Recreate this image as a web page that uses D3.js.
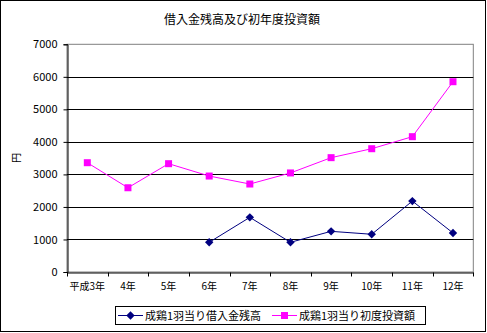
<!DOCTYPE html>
<html><head><meta charset="utf-8">
<script src="https://cdn.jsdelivr.net/npm/d3@7"></script>
<style>body{margin:0;background:#fff}svg{display:block}text{font-family:"Noto Sans CJK JP","Noto Sans",sans-serif;fill:#000}</style>
</head><body>
<script>
const categories = ["平成3年","4年","5年","6年","7年","8年","9年","10年","11年","12年"];
const debtPerBird = [null,null,null,913,1680,913,1250,1160,2180,1200];
const investPerBird = [3360,2590,3330,2950,2705,3045,3515,3790,4160,5850];
const yTicks = [0,1000,2000,3000,4000,5000,6000,7000];
const title = "借入金残高及び初年度投資額";
const yLabel = "円";
const seriesNames = ["成鶏1羽当り借入金残高","成鶏1羽当り初度投資額"];

const W = 487, H = 333;
const m = {left:67, top:44.3, right:473.3, bottom:272};
const svg = d3.select("body").append("svg").attr("width",W).attr("height",H);
svg.append("rect").attr("x",0.5).attr("y",0.5).attr("width",W-2).attr("height",H-2)
  .attr("fill","#fff").attr("stroke","#000");

const x = d3.scaleBand().domain(categories).range([m.left,m.right]);
const y = d3.scaleLinear().domain([0,7000]).range([m.bottom,m.top]);

// plot frame
svg.append("rect").attr("x",m.left).attr("y",m.top).attr("width",m.right-m.left).attr("height",m.bottom-m.top)
  .attr("fill","none").attr("stroke","#808080");

// gridlines
svg.append("g").selectAll("line").data(yTicks.filter(t=>t>0&&t<7000)).join("line")
  .attr("x1",m.left).attr("x2",m.right).attr("y1",d=>Math.round(y(d))+0.5).attr("y2",d=>Math.round(y(d))+0.5)
  .attr("stroke","#000");

// y axis
const ya = svg.append("g").attr("transform",`translate(${m.left+0.5},0)`)
  .call(d3.axisLeft(y).tickValues(yTicks).tickSize(4).tickFormat(d3.format("d")));
ya.select(".domain").attr("stroke","#000");
ya.selectAll("line").attr("stroke","#000");
ya.selectAll("text").attr("font-size",11).attr("dx",-3);

// x axis
const xa = svg.append("g").attr("transform",`translate(0,${m.bottom+0.5})`)
  .call(d3.axisBottom(x).tickSize(0).tickPadding(10));
xa.select(".domain").attr("stroke","#000");
xa.selectAll("text").attr("font-size",10);
xa.selectAll(".sep").data(x.domain().concat([null])).join("line").attr("class","sep")
  .attr("x1",(d,i)=>Math.round(m.left + i*x.step())+0.5).attr("x2",(d,i)=>Math.round(m.left + i*x.step())+0.5)
  .attr("y1",0).attr("y2",4).attr("stroke","#000");

// titles
svg.append("text").attr("x",242).attr("y",24).attr("text-anchor","middle").attr("font-size",12).text(title);
svg.append("text").attr("transform","translate(20,158) rotate(-90)").attr("text-anchor","middle")
  .attr("font-size",10).text(yLabel);

const cx = d => x(d)+x.bandwidth()/2;
const line = d3.line().defined(d=>d.v!=null).x(d=>cx(d.c)).y(d=>y(d.v));
const pts = arr => categories.map((c,i)=>({c, v:arr[i]}));

const navy = "#000080", pink = "#FF00FF";
svg.append("path").attr("d",line(pts(investPerBird))).attr("fill","none").attr("stroke",pink).attr("stroke-width",1);
svg.append("path").attr("d",line(pts(debtPerBird))).attr("fill","none").attr("stroke",navy).attr("stroke-width",1);

const diamond = d3.symbol().type(d3.symbolDiamond2).size(45);
svg.append("g").selectAll("path").data(pts(debtPerBird).filter(d=>d.v!=null)).join("path")
  .attr("d",diamond).attr("transform",d=>`translate(${cx(d.c)},${y(d.v)})`).attr("fill",navy);
svg.append("g").selectAll("rect").data(pts(investPerBird)).join("rect")
  .attr("x",d=>cx(d.c)-3.5).attr("y",d=>y(d.v)-3.5).attr("width",7).attr("height",7).attr("fill",pink);

// legend
const lg = svg.append("g");
lg.append("rect").attr("x",115.5).attr("y",306.5).attr("width",310).attr("height",18).attr("fill","#fff").attr("stroke","#000");
const items = [{name:seriesNames[0],color:navy,x0:118,shape:"d"},{name:seriesNames[1],color:pink,x0:272,shape:"s"}];
items.forEach(it=>{
  const g = lg.append("g");
  g.append("line").attr("x1",it.x0).attr("x2",it.x0+25).attr("y1",315.5).attr("y2",315.5).attr("stroke",it.color);
  if(it.shape==="d") g.append("path").attr("d",diamond).attr("transform",`translate(${it.x0+12.5},315.5)`).attr("fill",it.color);
  else g.append("rect").attr("x",it.x0+9).attr("y",312).attr("width",7).attr("height",7).attr("fill",it.color);
  g.append("text").attr("x",it.x0+27).attr("y",320).attr("font-size",11).text(it.name);
});
</script>
</body></html>
